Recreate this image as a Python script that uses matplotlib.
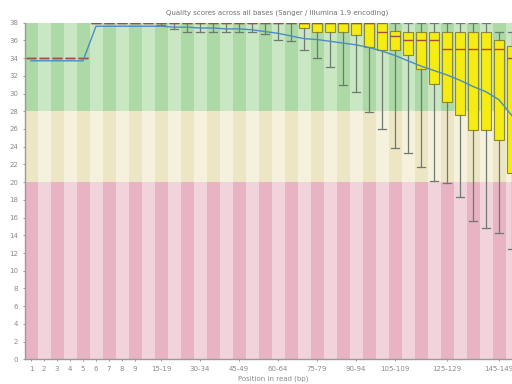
import numpy as np
import matplotlib
matplotlib.use('Agg')
import matplotlib.pyplot as plt

# categories along the read (FastQC grouping for 150bp reads)
positions = [str(i) for i in range(1, 10)] + ['%d-%d' % (s, s + 4) for s in range(10, 150, 5)] + ['150']
shown_labels = ['1', '2', '3', '4', '5', '6', '7', '8', '9', '15-19', '30-34', '45-49',
                '60-64', '75-79', '90-94', '105-109', '125-129', '145-149']

# per-position quality stats
q_upper = [34] * 5 + [38] * 23 + [38, 38, 38, 38, 38, 38, 38, 38, 37, 37]
q3 = [34] * 5 + [38] * 23 + [37.1, 36.9, 36.9, 36.9, 36.9, 36.9, 36.9, 36.9, 36.0, 35.4]
median = [34] * 5 + [38] * 22 + [37.0, 36.5, 36.0, 36.0, 36.0, 35.0, 35.0, 35.0, 35.0, 35.0, 34.0]
q1 = [34] * 5 + [38] * 16 + [37.4, 37.0, 37.0, 37.0, 36.6, 35.3, 34.9, 34.9, 34.3, 32.8,
                             31.1, 29.0, 27.6, 25.9, 25.9, 24.8, 21.0]
q_lower = [34] * 5 + [38] * 5 + [37.7, 37.3, 37.0, 37.0, 37.0, 37.0, 37.0, 37.0, 36.7, 36.1,
                                 35.9, 34.9, 34.0, 33.0, 31.0, 30.2, 27.9, 26.0, 23.9, 23.3,
                                 21.7, 20.1, 19.9, 18.3, 15.6, 14.8, 14.3, 12.5]
mean = [33.7] * 5 + [37.6] * 6 + [37.5, 37.5, 37.4, 37.4, 37.3, 37.3, 37.2, 37.0, 36.8,
                                  36.5, 36.2, 36.1, 35.9, 35.7, 35.5, 35.2, 34.8, 34.3, 33.7,
                                  33.1, 32.6, 32.1, 31.5, 30.8, 30.2, 29.3, 27.5]

# background zones: (bottom, top, dark stripe, light stripe)
zones = [(28, 38, '#acd9a6', '#cae7c4'),
         (20, 28, '#ece6c4', '#f5f1dd'),
         (0, 20, '#e8b3c3', '#f1d3dc')]

fig = plt.figure(figsize=(5.12, 3.84), dpi=100)
ax = fig.add_axes([24.5 / 512, 24.7 / 384, 494 / 512, 336.6 / 384])

x = np.arange(len(positions))
for lo, hi, dark, light in zones:
    cols = [dark if i % 2 == 0 else light for i in x]
    ax.bar(x, hi - lo, bottom=lo, width=1.0, color=cols, zorder=0, linewidth=0)

stats = []
for i in range(len(positions)):
    stats.append(dict(med=median[i], q1=q1[i], q3=q3[i], whislo=q_lower[i], whishi=q_upper[i]))
ax.bxp(stats, positions=x, widths=0.75, showfliers=False, patch_artist=True,
       boxprops=dict(facecolor='#f4ec12', edgecolor='#8f8a2a', linewidth=0.8),
       medianprops=dict(color='#a84a3c', linewidth=1.0),
       whiskerprops=dict(color='#6e7a70', linewidth=0.9),
       capprops=dict(color='#6e7a70', linewidth=0.9),
       capwidths=0.6, manage_ticks=False, zorder=3)

ax.plot(x, mean, color='#4a8cc4', linewidth=1.0, zorder=4)

ax.set_xlim(-0.5, len(positions) - 0.5)
ax.set_ylim(0, 38)
ax.set_yticks(range(0, 39, 2))
tick_idx = [positions.index(p) for p in shown_labels]
ax.set_xticks(tick_idx)
ax.set_xticklabels(shown_labels)
ax.tick_params(labelsize=5, colors='#8a8a8a', length=1.5, width=0.6, pad=3)

for s in ['top', 'right']:
    ax.spines[s].set_visible(False)
for s in ['left', 'bottom']:
    ax.spines[s].set_color('#9a9a9a')
    ax.spines[s].set_linewidth(1.0)

fig.text(277 / 512, 1 - 13 / 384, 'Quality scores across all bases (Sanger / Illumina 1.9 encoding)',
         ha='center', va='center', fontsize=5, color='#707070')
fig.text(273 / 512, 1 - 379 / 384, 'Position in read (bp)',
         ha='center', va='center', fontsize=5, color='#8a8a8a')

fig.savefig('out.png', dpi=100)
